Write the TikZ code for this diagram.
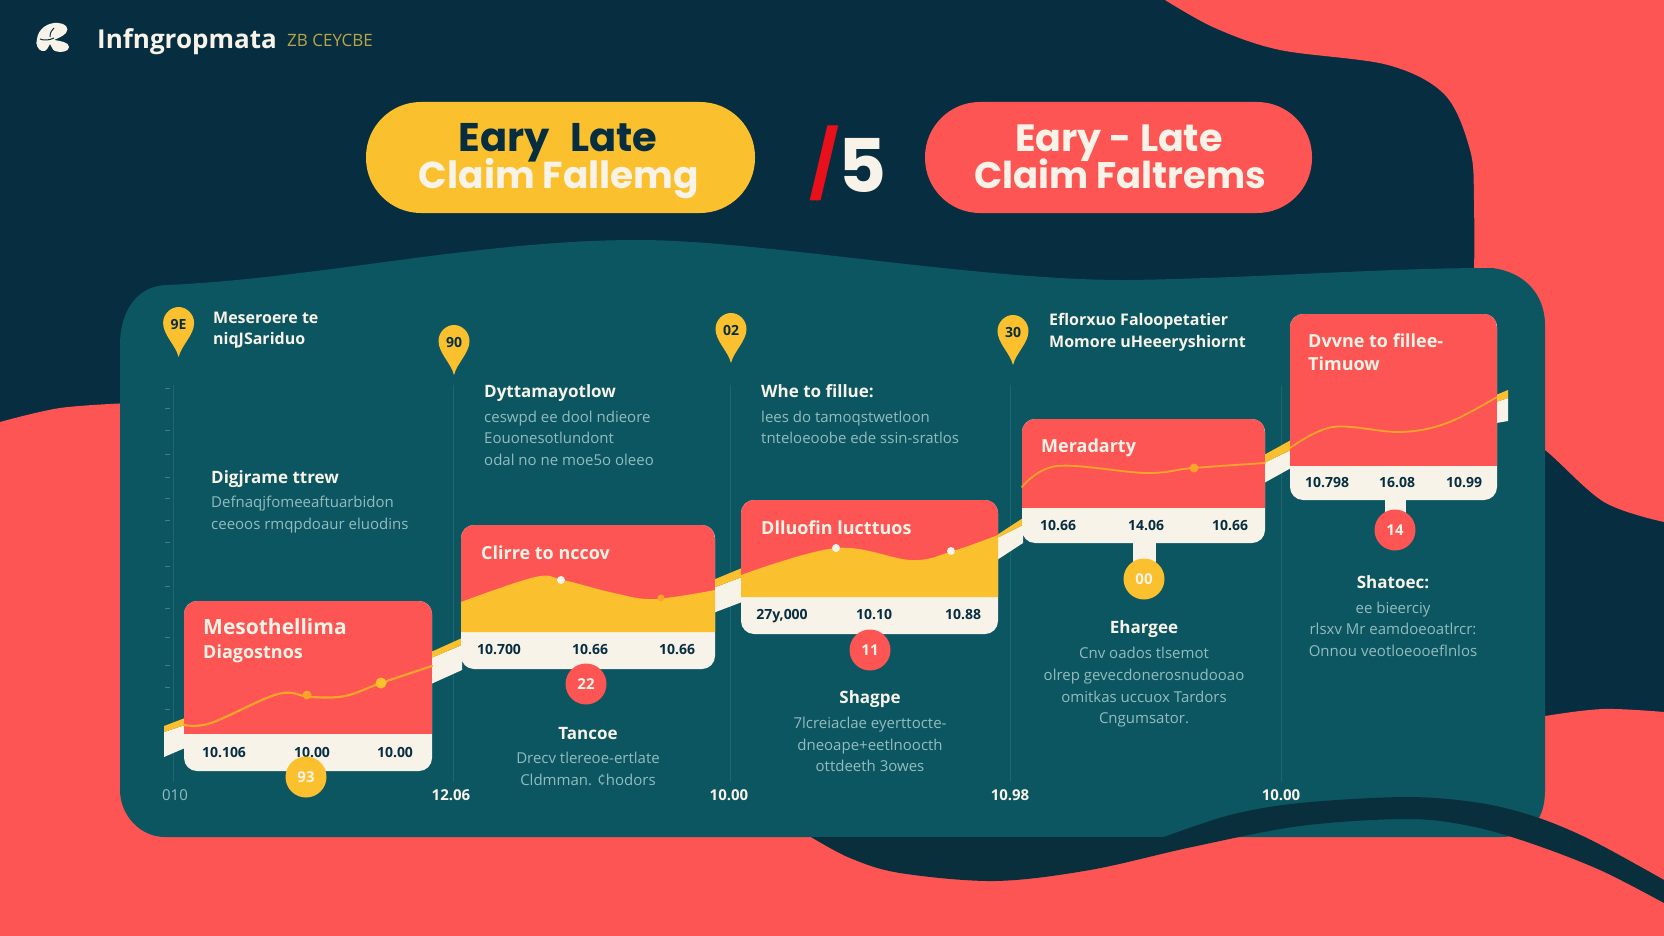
\documentclass[tikz,border=0pt]{standalone}
\usepackage{fontspec}
\setmainfont{Open Sans}
\newfontfamily\popf{Poppins}
\usetikzlibrary{calc}
\definecolor{navy}{HTML}{062E40}
\definecolor{coral}{HTML}{FC5553}
\definecolor{teal}{HTML}{0C5662}
\definecolor{yel}{HTML}{FBC02D}
\definecolor{cream}{HTML}{F8F3E8}
\definecolor{wave}{HTML}{092F3D}
\definecolor{subt}{HTML}{93BCBE}
\definecolor{grid}{HTML}{1F6570}
\definecolor{tickc}{HTML}{3F7F88}
\definecolor{lineo}{HTML}{FBA32B}
\definecolor{slash}{HTML}{E8101B}
\definecolor{goldt}{HTML}{B9A447}
\newcommand\myfs[1]{\fontsize{#1}{#1}\selectfont}
\newcommand\cardat[5]{% x0,y0,x1,ymid,ybottom
  \fill[cream,rounded corners=13pt] (#1,#2) rectangle (#3,#5);
  \begin{scope}
    \clip[rounded corners=13pt] (#1,#2) rectangle (#3,#5);
    \fill[coral] (#1,#2) rectangle (#3,#4);
  \end{scope}}
\newcommand\pinat[4]{% name,x,top,label
  \begin{scope}[shift={(#2,#3)}]
    \fill[yel] (0,50) .. controls (-3,38) and (-15.5,28) .. (-15.5,16) .. controls (-15.5,7) and (-8,0) .. (0,0) .. controls (8,0) and (15.5,7) .. (15.5,16) .. controls (15.5,28) and (3,38) .. (0,50) -- cycle;
    \node[pinlabel] (#1) at (0,16) {#4};
  \end{scope}}
\tikzset{
  x=1pt,y=-1pt,
  headl/.style={inner sep=0,anchor=mid west,yshift=-4pt,text=cream,font=\myfs{17}\bfseries},
  headc/.style={inner sep=0,anchor=mid,yshift=-4pt,text=cream,font=\myfs{17}\bfseries},
  subl/.style={inner sep=0,anchor=mid west,yshift=-3.5pt,text=subt,font=\myfs{15}},
  subc/.style={inner sep=0,anchor=mid,yshift=-3.5pt,text=subt,font=\myfs{15}},
  pintext/.style={inner sep=0,anchor=mid west,yshift=-3.5pt,text=cream,font=\myfs{16}\bfseries},
  cardtitle/.style={inner sep=0,anchor=mid west,yshift=-4.5pt,text=cream,font=\myfs{18}\bfseries},
  val/.style={inner sep=0,anchor=mid,yshift=-2.5pt,text=navy,font=\myfs{14}\bfseries},
  axisval/.style={inner sep=0,anchor=mid,yshift=-3.5pt,text=cream,font=\myfs{15}\bfseries},
  pinlabel/.style={inner sep=0,anchor=mid,yshift=-4pt,text=navy,font=\myfs{14}\bfseries},
  badge/.style={circle,inner sep=0,minimum size=41pt,text=cream,font=\myfs{15}\bfseries},
  pill/.style={rounded corners=55pt},
  pilltxt/.style={inner sep=0,anchor=mid,yshift=-10.5pt},
  gridline/.style={draw=grid,line width=0.6pt},
  chartline/.style={draw=lineo,line width=2.2pt,line cap=round},
}
\begin{document}
\begin{tikzpicture}
\useasboundingbox (0,0) rectangle (1664,936);
\fill[navy] (0,0) rectangle (1664,936);
% coral backgrounds
\fill[coral] plot[smooth,tension=0.55] coordinates {(1165,0)(1215,28)(1280,50)(1388,65)(1445,95)(1470,150)(1474,200)(1474,300)} -- (1480,400) -- plot[smooth,tension=0.55] coordinates {(1500,420)(1545,450)(1604,502)(1664,522)} -- (1664,0) -- cycle;
\fill[coral] plot[smooth,tension=0.55] coordinates {(0,422)(60,408)(130,403)} -- (1500,720) -- plot[smooth,tension=0.55] coordinates {(1500,725)(1545,716)(1604,709)(1664,712)} -- (1664,936) -- (0,936) -- cycle;
% panel
\fill[teal] (120,345) .. controls (120,310) and (138,285) .. (168,285) .. controls (320,278) and (480,240) .. (638,240) .. controls (760,240) and (980,281) .. (1130,280) .. controls (1260,278) and (1380,268) .. (1492,268) .. controls (1525,272) and (1545,295) .. (1545,325) -- (1545,790) .. controls (1545,815) and (1535,837) .. (1500,837) -- (165,837) .. controls (140,837) and (120,815) .. (120,790) -- cycle;
% dark wave
\fill[wave] plot[smooth,tension=0.55] coordinates {(811,837)(850,858)(900,873)(995,881)(1090,870)(1192,847)(1300,826)(1407,819)(1470,826)(1530,843)(1600,870)(1664,903)} -- plot[smooth,tension=0.55] coordinates {(1664,880)(1591,840)(1536,817)(1480,803)(1407,797)(1300,803)(1230,815)(1164,837)} -- cycle;
% grid
\foreach \gx in {173,453,730,1010,1281} \draw[gridline] (\gx,385) -- (\gx,782);
\foreach \ty in {388,408,430,454,477,498,520,542,566,586,608,637,665,687,709} \draw[draw=tickc,line width=0.9pt] (165,\ty) -- (170,\ty);
% ribbon segments
\foreach \xa/\xb/\at/\am/\ab/\bt/\bm/\bb in {
 164/185/726/732/757/718/725/748,
 431/462/652/658/684/638/645/670,
 713/742/580/588/613/568/577/602,
 997/1023/535/538/560/518/525/543,
 1264/1291/455/463/483/440/450/468,
 1496/1508/395/402/423/390/398/421}{
  \fill[cream] (\xa,\am) -- (\xb,\bm) -- (\xb,\bb) -- (\xa,\ab) -- cycle;
  \fill[yel] (\xa,\at) -- (\xb,\bt) -- (\xb,\bm) -- (\xa,\am) -- cycle;
}
% stems
\fill[cream] (1133,540) rectangle (1156,565);
\fill[cream] (1385,497) rectangle (1406,515);
% cards
\cardat{184}{601}{432}{734}{771}
\draw[chartline] plot[smooth,tension=0.6] coordinates {(184,725)(211,723)(278,694)(310,697)(345,696)(381,683)(432,666)};
\fill[lineo] (307,695) circle (4.5pt);
\fill[yel] (381,683) circle (5.5pt);
\cardat{461}{525}{715}{632}{669}
\fill[yel] plot[smooth,tension=0.6] coordinates {(461,602)(535,577)(563,580)(614,593)(654,599)(715,590)} -- (715,632) -- (461,632) -- cycle;
\fill[cream] (561,580) circle (4pt);
\fill[lineo] (661,598) circle (3.5pt);
\cardat{741}{500}{998}{597}{634}
\fill[yel] plot[smooth,tension=0.6] coordinates {(741,575)(836,548)(911,560)(950,552)(998,535)} -- (998,597) -- (741,597) -- cycle;
\fill[cream] (836,548) circle (4pt);
\fill[cream] (951,551) circle (4pt);
\cardat{1022}{419}{1265}{508}{543}
\draw[chartline,line width=1.8pt] plot[smooth,tension=0.6] coordinates {(1022,487)(1057,466)(1146,473)(1193,468)(1265,463)};
\fill[lineo] (1194,468) circle (4.5pt);
\cardat{1290}{314}{1497}{466}{500}
\draw[chartline,line width=1.8pt] plot[smooth,tension=0.6] coordinates {(1290,448)(1333,427)(1400,432)(1447,423)(1497,397)};
% logo
\fill[cream] (37,39) .. controls (38,29) and (48,22) .. (58,23) .. controls (65,23) and (70,28) .. (66,33) .. controls (62,37) and (58,38) .. (54,40) .. controls (60,41) and (69,42) .. (69,47) .. controls (69,52) and (60,53) .. (55,51) .. controls (52,50) and (52,46) .. (50,44) .. controls (48,47) and (47,52) .. (42,51) .. controls (38,50) and (35,44) .. (37,39) -- cycle;
\draw[navy,line width=1pt] (40,39) .. controls (44,41) and (50,40) .. (54,38);
\draw[navy,line width=1pt] (50,37) .. controls (50,32) and (52,30) .. (54,28);
\node[inner sep=0,anchor=mid west,yshift=-6.5pt,text=cream,font=\myfs{26}\bfseries] (brand) at (97,39) {Infngropmata};
\node[inner sep=0,anchor=mid west,yshift=-3pt,text=goldt,font=\myfs{17}] (brandsub) at (287,41) {ZB CEYCBE};
% pills
\fill[yel,pill] (366,102) rectangle (755,213);
\fill[coral,pill] (925,102) rectangle (1312,213);
\node[pilltxt,text=navy,font=\popf\myfs{40}\bfseries] (t1a) at (558,138) {Eary\enspace Late};
\node[pilltxt,text=cream,font=\popf\myfs{37.5}\bfseries] (t1b) at (559,175) {Claim Fallemg};
\node[pilltxt,text=cream,font=\popf\myfs{38}\bfseries] (t2a) at (1119,138) {Eary - Late};
\node[pilltxt,text=cream,font=\popf\myfs{37}\bfseries] (t2b) at (1120,175) {Claim Faltrems};
\node[inner sep=0,anchor=mid,text=slash,font=\popf\myfs{66}\bfseries] (slashmark) at (824,186) {/};
\node[inner sep=0,anchor=mid,text=cream,font=\popf\myfs{74}\bfseries] (five) at (863,190) {5};
% pins
\pinat{p1}{178.6}{307}{9E}
\pinat{p2}{454}{325}{90}
\pinat{p3}{731}{313}{02}
\pinat{p4}{1013}{315}{30}
\node[pintext] (pt1a) at (213,317) {Meseroere te};
\node[pintext] (pt1b) at (213,338) {niqJSariduo};
\node[pintext] (pt4a) at (1049,319) {Eflorxuo Faloopetatier};
\node[pintext] (pt4b) at (1049,341) {Momore uHeeeryshiornt};
% upper texts
\node[headl] (h1) at (211,477) {Digjrame ttrew};
\node[subl] (s1a) at (211,501) {Defnaqjfomeeaftuarbidon};
\node[subl] (s1b) at (211,523) {ceeoos rmqpdoaur eluodins};
\node[headl] (h2) at (484,391) {Dyttamayotlow};
\node[subl] (s2a) at (484,416) {ceswpd ee dool ndieore};
\node[subl] (s2b) at (484,437) {Eouonesotlundont};
\node[subl] (s2c) at (484,459) {odal no ne moe5o oleeo};
\node[headl] (h3) at (761,391) {Whe to fillue:};
\node[subl] (s3a) at (761,416) {lees do tamoqstwetloon};
\node[subl] (s3b) at (761,437) {tnteloeoobe ede ssin-sratlos};
% card titles
\node[cardtitle,font=\myfs{21}\bfseries] (c1a) at (203,627) {Mesothellima};
\node[cardtitle] (c1b) at (203,651) {Diagostnos};
\node[cardtitle] (c2) at (481,552) {Clirre to nccov};
\node[cardtitle] (c3) at (761,527) {Dlluofin lucttuos};
\node[cardtitle] (c4) at (1041,445) {Meradarty};
\node[cardtitle] (c5a) at (1308,340) {Dvvne to fillee-};
\node[cardtitle] (c5b) at (1308,363) {Timuow};
% values
\node[val] (v1a) at (224,752) {10.106};
\node[val] (v1b) at (312,752) {10.00};
\node[val] (v1c) at (395,752) {10.00};
\node[val] (v2a) at (499,649) {10.700};
\node[val] (v2b) at (590,649) {10.66};
\node[val] (v2c) at (677,649) {10.66};
\node[val] (v3a) at (782,614) {27y,000};
\node[val] (v3b) at (874,614) {10.10};
\node[val] (v3c) at (963,614) {10.88};
\node[val] (v4a) at (1058,525) {10.66};
\node[val] (v4b) at (1146,525) {14.06};
\node[val] (v4c) at (1230,525) {10.66};
\node[val] (v5a) at (1327,482) {10.798};
\node[val] (v5b) at (1397,482) {16.08};
\node[val] (v5c) at (1464,482) {10.99};
% badges
\node[badge,fill=yel] (b1) at (306,777) {93};
\node[badge,fill=coral] (b2) at (586,684) {22};
\node[badge,fill=coral] (b3) at (870,650) {11};
\node[badge,fill=yel] (b4) at (1144,579) {00};
\node[badge,fill=coral] (b5) at (1395,530) {14};
% lower texts
\node[headc] (h4) at (588,733) {Tancoe};
\node[subc] (s4a) at (588,757) {Drecv tlereoe-ertlate};
\node[subc] (s4b) at (588,779) {Cldmman. ¢hodors};
\node[headc] (h5) at (870,697) {Shagpe};
\node[subc] (s5a) at (870,722) {7lcreiaclae eyerttocte-};
\node[subc] (s5b) at (870,744) {dneoape+eetlnoocth};
\node[subc] (s5c) at (870,765) {ottdeeth 3owes};
\node[headc] (h6) at (1144,627) {Ehargee};
\node[subc] (s6a) at (1144,652) {Cnv oados tlsemot};
\node[subc] (s6b) at (1144,674) {olrep gevecdonerosnudooao};
\node[subc] (s6c) at (1144,696) {omitkas uccuox Tardors};
\node[subc] (s6d) at (1144,717) {Cngumsator.};
\node[headc] (h7) at (1393,582) {Shatoec:};
\node[subc] (s7a) at (1393,607) {ee bieerciy};
\node[subc] (s7b) at (1393,628) {rlsxv Mr eamdoeoatlrcr:};
\node[subc] (s7c) at (1393,650) {Onnou veotloeooeflnlos};
% axis
\node[axisval,text=subt,font=\myfs{15}] (a1) at (175,794) {010};
\node[axisval] (a2) at (451,794) {12.06};
\node[axisval] (a3) at (729,794) {10.00};
\node[axisval] (a4) at (1010,794) {10.98};
\node[axisval] (a5) at (1281,794) {10.00};
\end{tikzpicture}
\end{document}
